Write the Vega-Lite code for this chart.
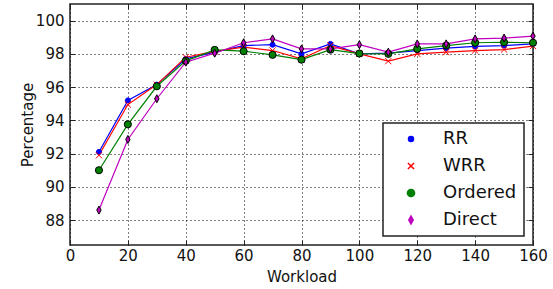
{
  "$schema": "https://vega.github.io/schema/vega-lite/v6.json",
  "width": 463,
  "height": 241,
  "autosize": {"type": "none"},
  "padding": {"left": 70, "top": 4, "right": 20, "bottom": 44},
  "background": "white",
  "config": {
    "font": "DejaVu Sans",
    "view": {"stroke": "#222222", "strokeWidth": 1.5},
    "axis": {
      "domain": false,
      "tickColor": "#222222",
      "tickSize": -5,
      "tickWidth": 1,
      "labelFontSize": 15,
      "labelColor": "#111111",
      "titleFontSize": 15,
      "titleFontWeight": "normal",
      "titleColor": "#111111",
      "gridColor": "#000000",
      "gridDash": [1, 3],
      "gridOpacity": 1,
      "gridWidth": 1
    }
  },
  "data": {
    "values": [
      {"w": 10, "s": "RR", "v": 92.1}, {"w": 20, "s": "RR", "v": 95.2}, {"w": 30, "s": "RR", "v": 96.15}, {"w": 40, "s": "RR", "v": 97.7},
      {"w": 50, "s": "RR", "v": 98.1}, {"w": 60, "s": "RR", "v": 98.5}, {"w": 70, "s": "RR", "v": 98.55}, {"w": 80, "s": "RR", "v": 98.0},
      {"w": 90, "s": "RR", "v": 98.6}, {"w": 100, "s": "RR", "v": 98.0}, {"w": 110, "s": "RR", "v": 98.05}, {"w": 120, "s": "RR", "v": 98.2},
      {"w": 130, "s": "RR", "v": 98.35}, {"w": 140, "s": "RR", "v": 98.45}, {"w": 150, "s": "RR", "v": 98.5}, {"w": 160, "s": "RR", "v": 98.6},
      {"w": 10, "s": "WRR", "v": 91.9}, {"w": 20, "s": "WRR", "v": 94.95}, {"w": 30, "s": "WRR", "v": 96.15}, {"w": 40, "s": "WRR", "v": 97.8},
      {"w": 50, "s": "WRR", "v": 98.15}, {"w": 60, "s": "WRR", "v": 98.4}, {"w": 70, "s": "WRR", "v": 98.2}, {"w": 80, "s": "WRR", "v": 97.7},
      {"w": 90, "s": "WRR", "v": 98.5}, {"w": 100, "s": "WRR", "v": 98.0}, {"w": 110, "s": "WRR", "v": 97.56}, {"w": 120, "s": "WRR", "v": 98.0},
      {"w": 130, "s": "WRR", "v": 98.1}, {"w": 140, "s": "WRR", "v": 98.2}, {"w": 150, "s": "WRR", "v": 98.26}, {"w": 160, "s": "WRR", "v": 98.47},
      {"w": 10, "s": "Ordered", "v": 91.0}, {"w": 20, "s": "Ordered", "v": 93.76}, {"w": 30, "s": "Ordered", "v": 96.05}, {"w": 40, "s": "Ordered", "v": 97.58},
      {"w": 50, "s": "Ordered", "v": 98.24}, {"w": 60, "s": "Ordered", "v": 98.16}, {"w": 70, "s": "Ordered", "v": 97.94}, {"w": 80, "s": "Ordered", "v": 97.65},
      {"w": 90, "s": "Ordered", "v": 98.25}, {"w": 100, "s": "Ordered", "v": 98.02}, {"w": 110, "s": "Ordered", "v": 98.0}, {"w": 120, "s": "Ordered", "v": 98.3},
      {"w": 130, "s": "Ordered", "v": 98.5}, {"w": 140, "s": "Ordered", "v": 98.67}, {"w": 150, "s": "Ordered", "v": 98.7}, {"w": 160, "s": "Ordered", "v": 98.67},
      {"w": 10, "s": "Direct", "v": 88.6}, {"w": 20, "s": "Direct", "v": 92.85}, {"w": 30, "s": "Direct", "v": 95.3}, {"w": 40, "s": "Direct", "v": 97.5},
      {"w": 50, "s": "Direct", "v": 98.04}, {"w": 60, "s": "Direct", "v": 98.67}, {"w": 70, "s": "Direct", "v": 98.9}, {"w": 80, "s": "Direct", "v": 98.3},
      {"w": 90, "s": "Direct", "v": 98.3}, {"w": 100, "s": "Direct", "v": 98.55}, {"w": 110, "s": "Direct", "v": 98.1}, {"w": 120, "s": "Direct", "v": 98.6},
      {"w": 130, "s": "Direct", "v": 98.6}, {"w": 140, "s": "Direct", "v": 98.9}, {"w": 150, "s": "Direct", "v": 98.95}, {"w": 160, "s": "Direct", "v": 99.07}
    ]
  },
  "layer": [
    {
      "mark": {"type": "line", "strokeWidth": 1.2},
      "encoding": {
        "x": {
          "field": "w", "type": "quantitative",
          "scale": {"domain": [0, 160], "nice": false, "zero": false},
          "axis": {"orient": "bottom", "values": [0, 20, 40, 60, 80, 100, 120, 140, 160], "title": "Workload", "grid": true, "labelPadding": 8, "titlePadding": 6, "labelFlush": false}
        },
        "y": {
          "field": "v", "type": "quantitative",
          "scale": {"domain": [86.5, 101], "nice": false, "zero": false},
          "axis": {"orient": "left", "values": [88, 90, 92, 94, 96, 98, 100], "title": "Percentage", "grid": true, "labelPadding": 11, "titlePadding": 0}
        },
        "color": {
          "field": "s", "type": "nominal",
          "scale": {"domain": ["RR", "WRR", "Ordered", "Direct"], "range": ["#0000ff", "#ff0000", "#008000", "#bf00bf"]},
          "legend": {
            "orient": "none", "legendX": 313, "legendY": 119, "title": null,
            "fillColor": "white", "strokeColor": "#222222", "cornerRadius": 0,
            "padding": 7, "symbolOffset": 12, "rowPadding": 9,
            "labelFontSize": 18, "labelColor": "#111111", "labelOffset": 23, "labelLimit": 200,
            "labelExpr": "datum.label + '  '",
            "encode": {
              "legend": {"update": {"strokeWidth": {"value": 1.5}}}
            }
          }
        }
      }
    },
    {
      "mark": {"type": "point", "opacity": 1, "strokeWidth": 1},
      "encoding": {
        "x": {
          "field": "w", "type": "quantitative",
          "scale": {"domain": [0, 160], "nice": false, "zero": false},
          "axis": {"orient": "top", "values": [0, 20, 40, 60, 80, 100, 120, 140, 160], "title": null, "labels": false, "grid": false}
        },
        "y": {
          "field": "v", "type": "quantitative",
          "scale": {"domain": [86.5, 101], "nice": false, "zero": false},
          "axis": {"orient": "right", "values": [88, 90, 92, 94, 96, 98, 100], "title": null, "labels": false, "grid": false}
        },
        "shape": {
          "field": "s", "type": "nominal",
          "scale": {"domain": ["RR", "WRR", "Ordered", "Direct"], "range": ["circle", "M-1,-1L1,1M-1,1L1,-1", "circle", "M0,-1L0.55,0L0,1L-0.55,0Z"]},
          "legend": null
        },
        "size": {
          "field": "s", "type": "nominal",
          "scale": {"domain": ["RR", "WRR", "Ordered", "Direct"], "range": [25, 64, 81, 169]},
          "legend": null
        },
        "fill": {
          "field": "s", "type": "nominal",
          "scale": {"domain": ["RR", "WRR", "Ordered", "Direct"], "range": ["#0000ff", "transparent", "#008000", "#bf00bf"]},
          "legend": null
        },
        "stroke": {
          "field": "s", "type": "nominal",
          "scale": {"domain": ["RR", "WRR", "Ordered", "Direct"], "range": ["#0000ff", "#ff0000", "#000000", "#000000"]},
          "legend": null
        }
      }
    }
  ],
  "resolve": {"axis": {"x": "independent", "y": "independent"}}
}
